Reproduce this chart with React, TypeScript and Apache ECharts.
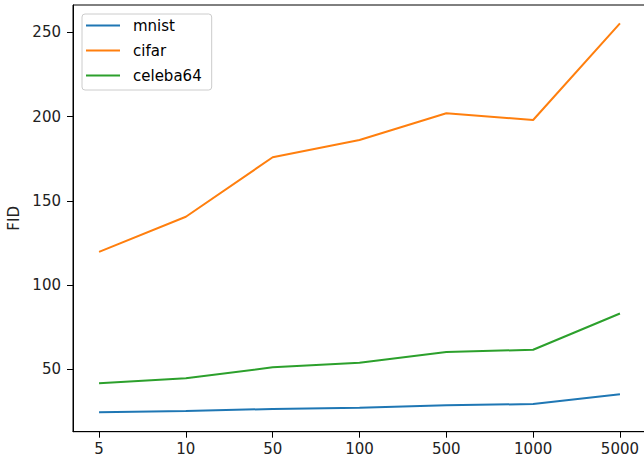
import React, { useEffect, useRef } from "react";
import * as echarts from "echarts";

const xLabels = ["5", "10", "50", "100", "500", "1000", "5000"];
const mnist = [24.6, 25.4, 26.6, 27.3, 28.8, 29.5, 35.3];
const cifar = [119.8, 140.6, 175.9, 186.1, 202.0, 198.0, 255.3];
const celeba64 = [41.8, 44.8, 51.3, 54.0, 60.4, 61.7, 83.2];
const yTicks = [50, 100, 150, 200, 250];

const FONT = "DejaVu Sans";

export default function App() {
  const ref = useRef<HTMLDivElement>(null);
  useEffect(() => {
    document.body.style.margin = "0";
    const chart = echarts.init(ref.current!, null, { renderer: "svg" });
    const xIdx = xLabels.map((_, i) => i);
    const mk = (name: string, vals: number[], color: string) => ({
      name,
      type: "line",
      data: vals.map((v, i) => [i, v]),
      symbol: "none",
      lineStyle: { color, width: 2 },
      itemStyle: { color },
      z: 2,
    });
    chart.setOption({
      animation: false,
      textStyle: { fontFamily: FONT },
      grid: {
        left: 73,
        right: 14,
        top: 5,
        bottom: 26.3,
        show: true,
        borderColor: "#000",
        borderWidth: 1,
        backgroundColor: "transparent",
        outerBoundsMode: "none",
      },
      legend: {
        orient: "vertical",
        left: 82,
        top: 14,
        icon: "rect",
        itemWidth: 34,
        itemHeight: 2,
        itemGap: 8,
        padding: [3, 10, 6, 4],
        borderColor: "#cccccc",
        borderWidth: 1,
        borderRadius: 3,
        backgroundColor: "rgba(255,255,255,0.8)",
        textStyle: {
          fontFamily: FONT,
          fontSize: 15,
          color: "#000",
          lineHeight: 17,
          padding: [0, 0, 0, 8],
        },
        data: ["mnist", "cifar", "celeba64"],
      },
      xAxis: {
        type: "value",
        min: -0.3,
        max: 6.3,
        splitLine: { show: false },
        axisLine: { show: true, onZero: false, lineStyle: { color: "#000", width: 1 } },
        axisTick: {
          show: true,
          length: 6,
          customValues: xIdx,
          lineStyle: { color: "#000", width: 1 },
        },
        axisLabel: {
          customValues: xIdx,
          formatter: (v: number) => xLabels[Math.round(v)] ?? "",
          fontFamily: FONT,
          fontSize: 15,
          color: "#222",
          margin: 10,
        },
      },
      yAxis: {
        type: "value",
        min: 13.1,
        max: 266.2,
        name: "FID",
        nameLocation: "middle",
        nameGap: 50,
        nameTextStyle: { fontFamily: FONT, fontSize: 15, color: "#222" },
        splitLine: { show: false },
        axisLine: { show: true, onZero: false, lineStyle: { color: "#000", width: 1 } },
        axisTick: {
          show: true,
          length: 6,
          customValues: yTicks,
          lineStyle: { color: "#000", width: 1 },
        },
        axisLabel: {
          customValues: yTicks,
          fontFamily: FONT,
          fontSize: 15,
          color: "#222",
          margin: 12,
        },
      },
      series: [
        mk("mnist", mnist, "#1f77b4"),
        mk("cifar", cifar, "#ff7f0e"),
        mk("celeba64", celeba64, "#2ca02c"),
      ],
    });
    return () => chart.dispose();
  }, []);
  return (
    <div
      style={{
        position: "absolute",
        left: 0,
        top: 0,
        width: 644,
        height: 458,
        overflow: "hidden",
        background: "#fff",
      }}
    >
      <div ref={ref} style={{ width: 660, height: 458 }} />
    </div>
  );
}
